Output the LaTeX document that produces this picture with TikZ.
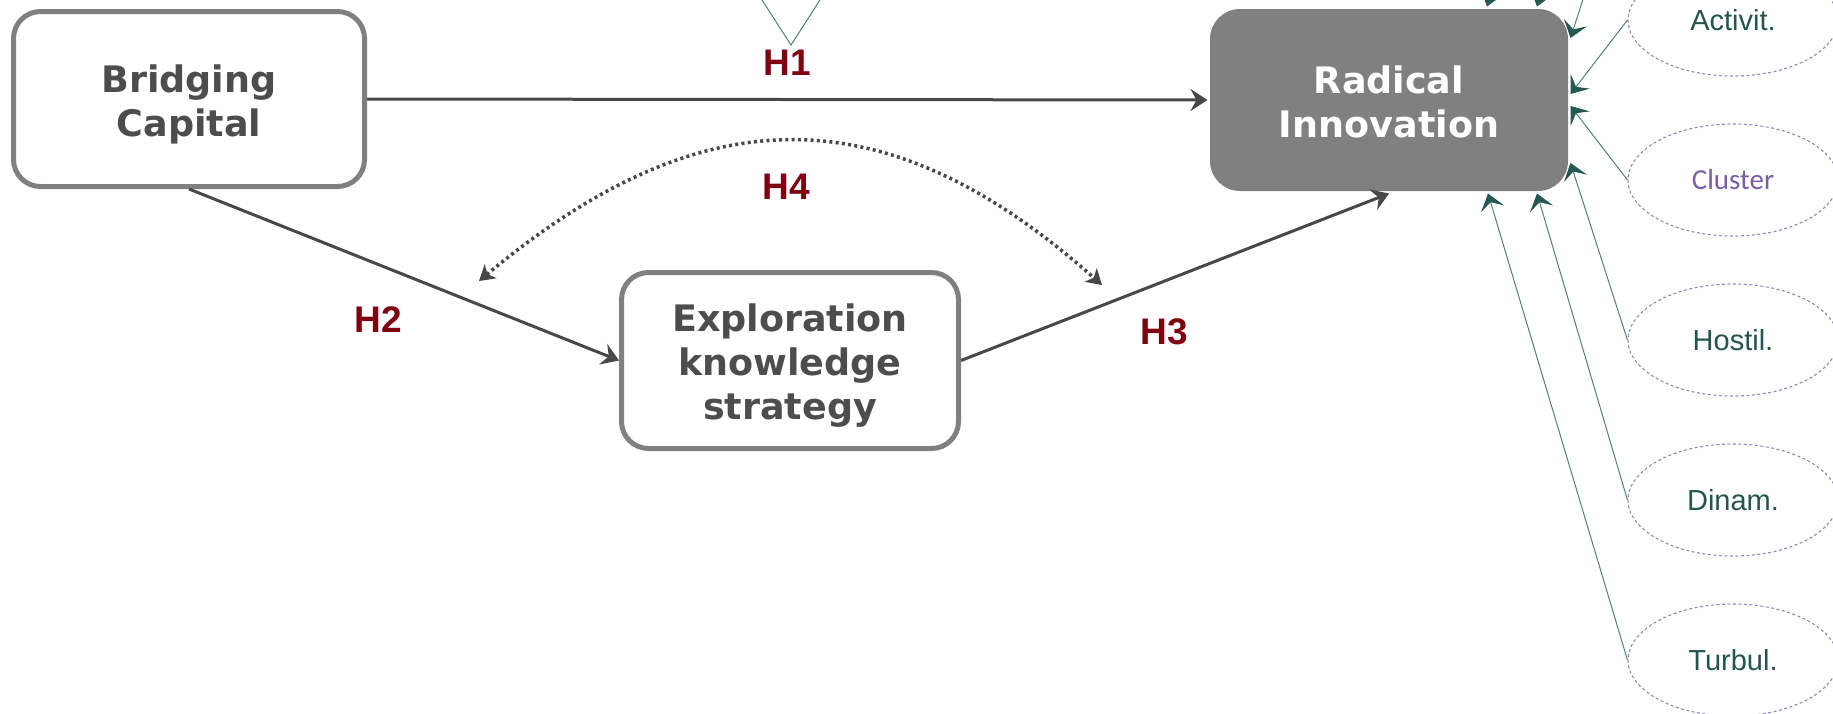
\documentclass[tikz,border=0pt]{standalone}
\usepackage{fontspec}
\setmainfont{Liberation Sans}
\newfontfamily\boxfont{DejaVu Sans}
\newfontfamily\clusterfont{Carlito}
\usetikzlibrary{arrows.meta,shapes.geometric}

\definecolor{boxline}{RGB}{128,128,128}
\definecolor{boxtext}{RGB}{77,77,77}
\definecolor{arrowgray}{RGB}{72,72,72}
\definecolor{hyp}{RGB}{128,0,16}
\definecolor{modline}{RGB}{80,128,123}
\definecolor{modtip}{RGB}{38,88,83}
\definecolor{modtext}{RGB}{36,84,80}
\definecolor{clustertext}{RGB}{122,94,168}
\definecolor{ellipseline}{RGB}{150,130,195}

% struts that give every box label the same line metrics
\newcommand\hiStrut{\rule{0pt}{39pt}}
\newcommand\loStrut{\rule[-9pt]{0pt}{9pt}}

\begin{document}
\begin{tikzpicture}[x=1pt,y=-1pt,
  construct/.style={rectangle, rounded corners=27pt, draw=boxline,
    line width=5pt, fill=white, text=boxtext, align=center, inner sep=0pt,
    font=\boxfont\bfseries\fontsize{36.5}{44}\selectfont},
  outcome/.style={construct, draw=none, fill=boxline, text=white,
    rounded corners=30pt},
  hyplabel/.style={inner sep=0pt, text=hyp,
    font=\bfseries\fontsize{37}{40}\selectfont},
  moderator/.style={ellipse, draw=ellipseline, line width=1.1pt,
    dash pattern=on 3pt off 2.5pt, minimum width=210pt,
    minimum height=112pt, inner sep=0pt, text=modtext,
    font=\fontsize{29}{31}\selectfont},
  path/.style={draw=arrowgray, line width=3pt,
    -{Stealth[length=17pt,width=22pt,inset=6pt]}},
  covary/.style={draw=arrowgray, line width=3.5pt,
    dash pattern=on 3pt off 3.3pt,
    {Stealth[length=15pt,width=18pt,inset=4pt]}-{Stealth[length=15pt,width=18pt,inset=4pt]}},
  control/.style={draw=modline, line width=1pt,
    -{Stealth[length=16pt,width=24pt,inset=7pt,color=modtip]}},
  thinline/.style={draw=modline, line width=1pt}]

\useasboundingbox (0,0) rectangle (1833,713);
\clip (0,0) rectangle (1833,713);

% constructs
\node[construct, minimum width=351pt, minimum height=175pt] (bridging)
  at (189,99) {\hiStrut Bridging\\Capital\loStrut};
\node[construct, minimum width=337pt, minimum height=176pt] (explor)
  at (790,360.5) {\hiStrut Exploration\\knowledge\\strategy\loStrut};
\node[outcome, minimum width=358pt, minimum height=182pt] (radical)
  at (1389,100) {\hiStrut Radical\\Innovation\loStrut};

% control variables
\node[moderator] (activit) at (1733,20)  {Activit.};
\node[moderator, text=clustertext, font=\clusterfont\fontsize{29}{31}\selectfont]
  (cluster) at (1733,180) {Cluster};
\node[moderator] (hostil)  at (1733,340) {Hostil.};
\node[moderator] (dinam)   at (1733,500) {Dinam.};
\node[moderator] (turbul)  at (1733,660) {Turbul.};

% further controls sit above the visible area
\coordinate (ctlA) at (1628,-460);
\coordinate (ctlB) at (1628,-300);
\coordinate (ctlC) at (1628,-140);

% hypothesised paths
\draw[path] (bridging.east) -- (radical.west);
\draw[path] (bridging.south) -- (explor.west);
\draw[path] (explor.east) -- (radical.south);

\coordinate (h4left)  at (479,281);
\coordinate (h4right) at (1102,285);
\draw[covary] (h4left) .. controls (703,94) and (887,94) .. (h4right);

\node[hyplabel] (h1) at (787,63)   {H1};
\node[hyplabel] (h2) at (378,320)  {H2};
\node[hyplabel] (h3) at (1164,332) {H3};
\node[hyplabel] (h4) at (786,187)  {H4};

% control effects on the outcome
\draw[control] (ctlA) -- ([xshift=98pt]radical.north);
\draw[control] (ctlB) -- ([xshift=148pt]radical.north);
\draw[control] (ctlC) -- ([yshift=62pt]radical.east);
\draw[control] (activit.west) -- ([yshift=6pt]radical.east);
\draw[control] (cluster.west) -- ([yshift=-6pt]radical.east);
\draw[control] (hostil.west) -- ([yshift=-63pt]radical.east);
\draw[control] (dinam.west) -- ([xshift=148pt]radical.south);
\draw[control] (turbul.west) -- ([xshift=99pt]radical.south);

% lines meeting above H1
\coordinate (vLeft)  at (755.6,-10);
\coordinate (vRight) at (826.4,-10);
\coordinate (vApex)  at (791,45);
\draw[thinline] (vLeft) -- (vApex) -- (vRight);
\end{tikzpicture}
\end{document}
